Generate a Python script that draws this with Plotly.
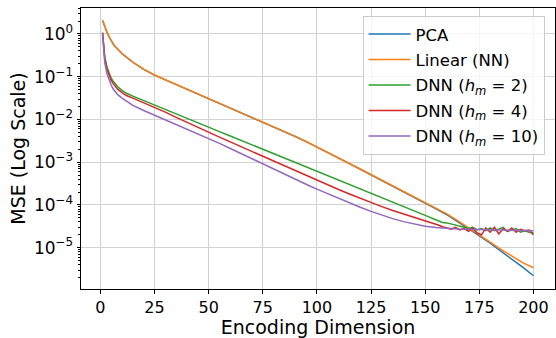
import plotly.graph_objects as go

# Encoding dimensions at which each model was evaluated
dims_smooth = [1, 2, 3, 4, 5, 6, 7, 8, 10, 12, 15] + list(range(20, 201, 5))
dims_dnn = [1, 2, 3, 4, 5, 6, 7, 8, 10, 12, 15] + list(range(20, 151, 5)) + list(range(152, 201, 2))

# Reconstruction MSE per model
mse_pca = [2.08, 1.48, 1.11, 0.86, 0.675, 0.575, 0.495, 0.436, 0.347, 0.287, 0.218, 0.148,
           0.109, 0.0843, 0.0655, 0.0508, 0.0394, 0.0306, 0.0238, 0.0184, 0.0143, 0.0111,
           0.0086, 0.0067, 0.0052, 0.00399, 0.00302, 0.00227, 0.00168, 0.00125, 0.000924,
           0.000685, 0.000508, 0.000376, 0.000279, 0.000205, 0.000151, 0.000112, 8.1e-5,
           5.9e-5, 4.1e-5, 2.85e-5, 1.9e-5, 1.27e-5, 8.3e-6, 5.4e-6, 3.5e-6, 2.2e-6]
mse_linear = [2.1, 1.5, 1.12, 0.87, 0.68, 0.58, 0.5, 0.44, 0.35, 0.29, 0.22, 0.15, 0.11,
              0.0851, 0.0661, 0.0513, 0.0398, 0.0309, 0.024, 0.0186, 0.0145, 0.0112, 0.0087,
              0.00676, 0.00525, 0.00403, 0.00305, 0.00229, 0.0017, 0.00126, 0.000933,
              0.000692, 0.000513, 0.00038, 0.000282, 0.000209, 0.000155, 0.000115, 8.41e-5,
              6.17e-5, 4.27e-5, 2.95e-5, 2.0e-5, 1.35e-5, 9.1e-6, 6.3e-6, 4.47e-6, 3.39e-6]
mse_dnn2 = [1.07, 0.3, 0.17, 0.12, 0.092, 0.077, 0.066, 0.058, 0.048, 0.041, 0.0351, 0.0275,
            0.0219, 0.0172, 0.0135, 0.0106, 0.00832, 0.00658, 0.0052, 0.0041, 0.00324,
            0.00256, 0.00202, 0.0016, 0.00126, 0.000998, 0.000787, 0.000622, 0.000492,
            0.000388, 0.000307, 0.000242, 0.000191, 0.000151, 0.000119, 9.44e-5, 7.45e-5,
            5.89e-5,
            5.2e-5, 4.7e-5, 4.2e-5, 3.9e-5, 3.8e-5, 3.6e-5, 3.4e-5, 3.3e-5, 3.0e-5, 2.8e-5,
            3.0e-5, 2.6e-5, 2.8e-5, 2.5e-5, 2.9e-5, 2.5e-5, 2.7e-5, 3.0e-5, 2.4e-5, 2.6e-5,
            2.8e-5, 2.3e-5, 2.5e-5, 2.3e-5, 2.2e-5]
mse_dnn4 = [1.07, 0.27, 0.15, 0.105, 0.082, 0.068, 0.058, 0.051, 0.0427, 0.0363, 0.0316,
            0.0248, 0.0191, 0.0148, 0.0112, 0.0085, 0.00653, 0.00501, 0.00386, 0.00298,
            0.0023, 0.00178, 0.00138, 0.00106, 0.000817, 0.000628, 0.000483, 0.000372,
            0.000292, 0.000229, 0.00018, 0.000142, 0.000112, 9.12e-5, 7.41e-5, 6.17e-5,
            5.13e-5, 4.37e-5,
            4.0e-5, 3.7e-5, 3.4e-5, 3.1e-5, 2.9e-5, 2.7e-5, 3.0e-5, 2.6e-5, 2.8e-5, 2.4e-5,
            2.9e-5, 2.2e-5, 2.0e-5, 2.9e-5, 2.3e-5, 3.0e-5, 2.1e-5, 2.8e-5, 2.4e-5, 2.9e-5,
            2.3e-5, 2.7e-5, 2.5e-5, 2.6e-5, 2.0e-5]
mse_dnn10 = [1.07, 0.219, 0.12, 0.083, 0.063, 0.051, 0.0437, 0.038, 0.0316, 0.0266, 0.0214,
             0.0162, 0.0126, 0.00977, 0.00759, 0.00589, 0.00462, 0.00363, 0.00275, 0.00209,
             0.00158, 0.0012, 0.000912, 0.000692, 0.000525, 0.000398, 0.000305, 0.000234,
             0.000182, 0.000141, 0.000111, 8.81e-5, 7.08e-5, 5.75e-5, 4.79e-5, 4.07e-5,
             3.55e-5, 3.16e-5, 2.95e-5, 2.82e-5, 2.75e-5, 2.7e-5, 2.66e-5, 2.62e-5, 2.58e-5,
             2.55e-5, 2.52e-5, 2.48e-5]

series = [
    ("PCA", dims_smooth, mse_pca, "#1f77b4"),
    ("Linear (NN)", dims_smooth, mse_linear, "#ff7f0e"),
    ("DNN (<i>h</i><sub><i>m</i></sub> = 2)", dims_dnn, mse_dnn2, "#2ca02c"),
    ("DNN (<i>h</i><sub><i>m</i></sub> = 4)", dims_dnn, mse_dnn4, "#d62728"),
    ("DNN (<i>h</i><sub><i>m</i></sub> = 10)", dims_smooth, mse_dnn10, "#9467bd"),
]

x_ticks = [0, 25, 50, 75, 100, 125, 150, 175, 200]
y_ticks = [1, 1e-1, 1e-2, 1e-3, 1e-4, 1e-5]
y_ticktext = ["10<sup>0</sup>", "10<sup>\u22121</sup>", "10<sup>\u22122</sup>",
              "10<sup>\u22123</sup>", "10<sup>\u22124</sup>", "10<sup>\u22125</sup>"]
y_minor = [k * 10.0 ** e for e in range(-6, 1) for k in range(2, 10)]

fig = go.Figure()
for i, (name, xs, ys, color) in enumerate(series):
    fig.add_trace(go.Scatter(x=xs, y=ys, mode="lines", name=name, legendgroup=str(i),
                             line=dict(color=color, width=1.5)))

axis_common = dict(showline=True, linecolor="black", linewidth=1, mirror=True,
                   ticks="outside", ticklen=3.5, tickcolor="black", tickwidth=1,
                   showgrid=True, gridcolor="#d2d2d2", gridwidth=1, zeroline=False)

fig.update_layout(
    width=556, height=338,
    margin=dict(l=81, r=0, t=8, b=46),
    paper_bgcolor="white", plot_bgcolor="white",
    font=dict(family="DejaVu Sans", size=16, color="black"),
    legend=dict(x=0.594, y=0.972, xanchor="left", yanchor="top",
                bgcolor="rgba(255,255,255,0.8)", bordercolor="#cccccc", borderwidth=1,
                font=dict(size=16.5), traceorder="grouped", tracegroupgap=1,
                itemwidth=42),
    xaxis=dict(range=[-8.95, 209.95], tickmode="array", tickvals=x_ticks,
               title=dict(text="Encoding Dimension", standoff=8), **axis_common),
    yaxis=dict(type="log", range=[-5.967, 0.608], tickmode="array", tickvals=y_ticks,
               ticktext=y_ticktext, tickfont=dict(size=17),
               title=dict(text="MSE (Log Scale)", standoff=3),
               minor=dict(tickmode="array", tickvals=y_minor, ticks="outside", ticklen=2,
                          tickcolor="black", showgrid=False),
               **axis_common),
)

fig.write_html("out.html")
